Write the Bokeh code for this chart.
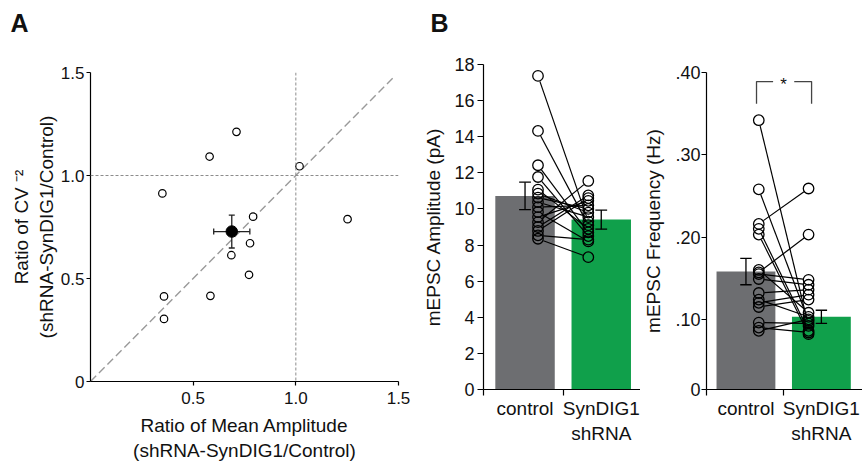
import math
from bokeh.plotting import figure
from bokeh.models import FixedTicker, Label, Span, Range1d
from bokeh.layouts import row, column
from bokeh.embed import file_html
from bokeh.resources import INLINE

FONT = "Liberation Sans"

# ---------------- Panel A data ----------------
AMP_RATIO = [0.711, 0.580, 1.018, 0.350, 0.792, 1.252, 0.777, 0.686, 0.772, 0.358, 0.584, 0.358]
CV_RATIO = [1.212, 1.092, 1.045, 0.913, 0.800, 0.788, 0.671, 0.613, 0.518, 0.413, 0.416, 0.304]
MEAN_AMP_RATIO = 0.688
MEAN_CV_RATIO = 0.728
SEM_AMP_RATIO = 0.088
SEM_CV_RATIO = 0.080
A_TICKS_X = [0.5, 1.0, 1.5]
A_TICK_LABELS_X = ["0.5", "1.0", "1.5"]
A_TICKS_Y = [0.0, 0.5, 1.0, 1.5]
A_TICK_LABELS_Y = ["0", "0.5", "1.0", "1.5"]
IDENTITY_END = 1.48
A_XLABEL = "Ratio of Mean Amplitude\n(shRNA-SynDIG1/Control)"
A_YLABEL = "Ratio of CV \u207b\u00b2\n(shRNA-SynDIG1/Control)"
PANEL_LETTERS = ["A", "B"]

# ---------------- Panel B data ----------------
GROUPS = ["control", "SynDIG1\nshRNA"]
GROUP_X = [1, 2]
AMP_MEAN = [10.72, 9.41]
AMP_SEM = [0.76, 0.53]
AMP_CONTROL = [17.37, 14.32, 12.42, 11.77, 11.07, 10.85, 10.63, 10.38,
               10.10, 9.83, 9.55, 9.27, 9.00, 8.78, 8.54, 8.35]
AMP_SYNDIG = [9.30, 9.10, 8.70, 8.50, 8.90, 9.80, 10.00, 9.55,
              10.20, 8.20, 10.45, 11.55, 10.75, 10.60, 8.30, 7.33]
AMP_TICKS = [0, 2, 4, 6, 8, 10, 12, 14, 16, 18]
AMP_YLABEL = "mEPSC Amplitude (pA)"

FREQ_MEAN = [0.158, 0.103]
FREQ_SEM = [0.016, 0.008]
FREQ_CONTROL = [0.342, 0.258, 0.216, 0.210, 0.203, 0.160, 0.157, 0.155,
                0.149, 0.132, 0.124, 0.120, 0.115, 0.096, 0.090, 0.086]
FREQ_SYNDIG = [0.092, 0.098, 0.259, 0.086, 0.082, 0.108, 0.203, 0.148,
               0.142, 0.136, 0.103, 0.130, 0.124, 0.095, 0.084, 0.100]
FREQ_TICKS = [0.0147, 0.1, 0.2, 0.3, 0.4]
FREQ_TICK_LABELS = ["0", ".10", ".20", ".30", ".40"]
FREQ_YLABEL = "mEPSC Frequency (Hz)"
SIGNIF = "*"

# ---------------- style ----------------
GRAY = "#6d6e71"
GREEN = "#10a04b"
TXT = "#111111"
CTRL_X = 1.17
SYN_X = 1.83
BAR_W = 0.78
HEADER_H = 40
FRAMES = {}


def make_fig(width, height, xr, yr, ml, mr, mt, mb):
    p = figure(width=width, height=height, x_range=xr, y_range=yr,
               output_backend="svg", toolbar_location=None,
               min_border_left=ml, min_border_right=mr,
               min_border_top=mt, min_border_bottom=mb)
    p.frame_align = False
    p.outline_line_color = None
    p.grid.visible = False
    p.background_fill_color = "white"
    p.border_fill_color = "white"
    for ax in (p.xaxis[0], p.yaxis[0]):
        ax.axis_line_color = "black"
        ax.axis_line_width = 1.2
        ax.major_tick_line_color = "black"
        ax.major_tick_line_width = 1.2
        ax.major_tick_in = 0
        ax.minor_tick_line_color = None
        ax.major_label_text_font = FONT
        ax.major_label_text_color = TXT
        ax.axis_label_text_font = FONT
        ax.axis_label_text_font_style = "normal"
        ax.axis_label_text_font_size = "19px"
        ax.axis_label_text_color = TXT
        ax.axis_label_text_line_height = 1.2
    FRAMES[id(p)] = (width - ml - mr, height - mt - mb)
    return p


def trimmed(p, x0, x1, ya, yb, r):
    fw, fh = FRAMES[id(p)]
    kx = fw / (p.x_range.end - p.x_range.start)
    ky = fh / (p.y_range.end - p.y_range.start)
    out = {"x0": [], "y0": [], "x1": [], "y1": []}
    for a, b in zip(ya, yb):
        L = math.hypot((x1 - x0) * kx, (b - a) * ky)
        t = r / L
        out["x0"].append(x0 + (x1 - x0) * t)
        out["y0"].append(a + (b - a) * t)
        out["x1"].append(x1 - (x1 - x0) * t)
        out["y1"].append(b - (b - a) * t)
    return out


def px_to_dx(p, px):
    fw, _ = FRAMES[id(p)]
    return px * (p.x_range.end - p.x_range.start) / fw


def px_to_dy(p, px):
    _, fh = FRAMES[id(p)]
    return px * (p.y_range.end - p.y_range.start) / fh


# ================= header with panel letters =================
hdr = figure(width=862, height=HEADER_H, x_range=Range1d(0, 862),
             y_range=Range1d(HEADER_H, 0), output_backend="svg",
             toolbar_location=None, x_axis_location=None, y_axis_location=None,
             min_border=0)
hdr.frame_align = False
hdr.outline_line_color = None
for g in hdr.grid:
    g.visible = False
for letter, lx in zip(PANEL_LETTERS, [10, 430]):
    hdr.add_layout(Label(x=lx, y=22, text=letter, text_font=FONT,
                         text_font_size="25px", text_font_style="bold",
                         text_align="left", text_baseline="alphabetic",
                         text_color=TXT))

# ================= Panel A =================
H = 463 - HEADER_H
pa = make_fig(420, H, (0, 1.5), (0, 1.5), 90, 22, 72 - HEADER_H, 82)
pa.xaxis.ticker = FixedTicker(ticks=A_TICKS_X)
pa.yaxis.ticker = FixedTicker(ticks=A_TICKS_Y)
pa.xaxis.major_label_overrides = {t: s for t, s in zip(A_TICKS_X, A_TICK_LABELS_X)}
pa.yaxis.major_label_overrides = {t: s for t, s in zip(A_TICKS_Y, A_TICK_LABELS_Y)}
pa.xaxis.major_label_text_font_size = "17px"
pa.yaxis.major_label_text_font_size = "17px"
pa.xaxis.major_tick_out = 4
pa.yaxis.major_tick_out = 4
pa.xaxis.major_label_standoff = 6
pa.yaxis.major_label_standoff = 2
pa.xaxis.axis_label = A_XLABEL
pa.xaxis.axis_label_standoff = 8
pa.yaxis.axis_label = A_YLABEL
pa.yaxis.axis_label_standoff = 1

pa.add_layout(Span(location=1.0, dimension="width", line_color="#8c8c8c",
                   line_width=1, line_dash="3 2"))
pa.add_layout(Span(location=1.0, dimension="height", line_color="#8c8c8c",
                   line_width=1, line_dash="3 2"))
pa.line([0, IDENTITY_END], [0, IDENTITY_END], line_color="#9a9a9a",
        line_width=1.4, line_dash="8 4")

pa.scatter(AMP_RATIO, CV_RATIO, marker="circle", size=7.5, fill_color="white",
           line_color="black", line_width=1.2)

hx = px_to_dy(pa, 3)
hy = px_to_dx(pa, 3)
ERR = dict(line_color="#222222", line_width=1.3)
pa.segment(x0=[MEAN_AMP_RATIO - SEM_AMP_RATIO], y0=[MEAN_CV_RATIO],
           x1=[MEAN_AMP_RATIO + SEM_AMP_RATIO], y1=[MEAN_CV_RATIO], **ERR)
pa.segment(x0=[MEAN_AMP_RATIO], y0=[MEAN_CV_RATIO - SEM_CV_RATIO],
           x1=[MEAN_AMP_RATIO], y1=[MEAN_CV_RATIO + SEM_CV_RATIO], **ERR)
pa.segment(x0=[MEAN_AMP_RATIO - SEM_AMP_RATIO, MEAN_AMP_RATIO + SEM_AMP_RATIO],
           y0=[MEAN_CV_RATIO - hx, MEAN_CV_RATIO - hx],
           x1=[MEAN_AMP_RATIO - SEM_AMP_RATIO, MEAN_AMP_RATIO + SEM_AMP_RATIO],
           y1=[MEAN_CV_RATIO + hx, MEAN_CV_RATIO + hx], **ERR)
pa.segment(x0=[MEAN_AMP_RATIO - hy, MEAN_AMP_RATIO - hy],
           y0=[MEAN_CV_RATIO - SEM_CV_RATIO, MEAN_CV_RATIO + SEM_CV_RATIO],
           x1=[MEAN_AMP_RATIO + hy, MEAN_AMP_RATIO + hy],
           y1=[MEAN_CV_RATIO - SEM_CV_RATIO, MEAN_CV_RATIO + SEM_CV_RATIO], **ERR)
pa.scatter([MEAN_AMP_RATIO], [MEAN_CV_RATIO], marker="circle", size=11.5,
           fill_color="black", line_color="black")


# ================= Bar panels =================
def bar_panel(p, means, sems, ctrl, syn, floor):
    p.xaxis.ticker = FixedTicker(ticks=GROUP_X, minor_ticks=[p.x_range.start, 1.5])
    p.xaxis.major_label_overrides = {g: s for g, s in zip(GROUP_X, GROUPS)}
    p.xaxis.major_label_text_font_size = "19px"
    p.xaxis.major_tick_line_color = None
    p.xaxis.major_tick_out = 0
    p.xaxis.major_label_standoff = 2
    p.xaxis.minor_tick_line_color = "black"
    p.xaxis.minor_tick_line_width = 1.2
    p.xaxis.minor_tick_in = 0
    p.xaxis.minor_tick_out = 6
    p.vbar(x=GROUP_X, top=means, bottom=floor, width=BAR_W,
           fill_color=[GRAY, GREEN], line_color=None)
    lo = [m - s for m, s in zip(means, sems)]
    hi = [m + s for m, s in zip(means, sems)]
    cw = px_to_dx(p, 6)
    p.segment(x0=GROUP_X, y0=lo, x1=GROUP_X, y1=hi, line_color="black", line_width=1.3)
    p.segment(x0=[g - cw for g in GROUP_X] * 2, y0=lo + hi,
              x1=[g + cw for g in GROUP_X] * 2, y1=lo + hi,
              line_color="black", line_width=1.3)
    seg = trimmed(p, CTRL_X, SYN_X, ctrl, syn, 5.8)
    p.segment(x0=seg["x0"], y0=seg["y0"], x1=seg["x1"], y1=seg["y1"],
              line_color="black", line_width=1.2)
    p.scatter([CTRL_X] * len(ctrl), ctrl, marker="circle", size=10.5,
              fill_color=None, line_color="black", line_width=1.3)
    p.scatter([SYN_X] * len(syn), syn, marker="circle", size=10.5,
              fill_color=None, line_color="black", line_width=1.3)


pb = make_fig(220, H, (0.455, 2.515), (0, 18), 60, 0, 64 - HEADER_H, 74)
pb.yaxis.ticker = FixedTicker(ticks=AMP_TICKS)
pb.yaxis.major_label_text_font_size = "18px"
pb.yaxis.major_tick_out = 6
pb.yaxis.major_label_standoff = 3
pb.yaxis.axis_label = AMP_YLABEL
pb.yaxis.axis_label_standoff = 7
bar_panel(pb, AMP_MEAN, AMP_SEM, AMP_CONTROL, AMP_SYNDIG, 0)

pc = make_fig(222, H, (0.477, 2.545), (FREQ_TICKS[0], FREQ_TICKS[-1]), 58, 0,
              72 - HEADER_H, 74)
pc.yaxis.ticker = FixedTicker(ticks=FREQ_TICKS)
pc.yaxis.major_label_overrides = {t: s for t, s in zip(FREQ_TICKS, FREQ_TICK_LABELS)}
pc.yaxis.major_label_text_font_size = "18px"
pc.yaxis.major_tick_out = 5
pc.yaxis.major_label_standoff = 1
pc.yaxis.axis_label = FREQ_YLABEL
pc.yaxis.axis_label_standoff = 8
bar_panel(pc, FREQ_MEAN, FREQ_SEM, FREQ_CONTROL, FREQ_SYNDIG, FREQ_TICKS[0])

# significance bracket
BR_L, BR_R, GAP_L, GAP_R = 1.14, 1.87, 1.36, 1.64
BR_TOP, BR_LEG = 0.389, 0.362
pc.multi_line(xs=[[BR_L, BR_L, GAP_L], [GAP_R, BR_R, BR_R]],
              ys=[[BR_LEG, BR_TOP, BR_TOP], [BR_TOP, BR_TOP, BR_LEG]],
              line_color="#444444", line_width=1.3)
pc.add_layout(Label(x=(GAP_L + GAP_R) / 2, y=0.385, text=SIGNIF, text_font=FONT,
                    text_font_size="17px", text_align="center",
                    text_baseline="alphabetic", text_color=TXT))

layout = column(hdr, row(pa, pb, pc))
open("out.html", "w").write(file_html(layout, INLINE))
